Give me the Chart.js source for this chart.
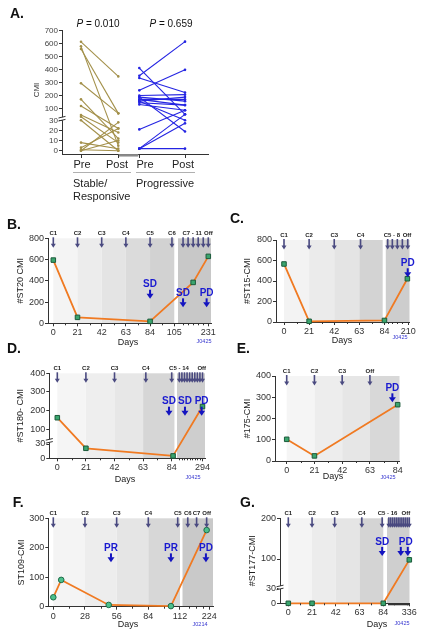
<!DOCTYPE html>
<html>
<head>
<meta charset="utf-8">
<title>CMI course</title>
<script src="https://cdn.jsdelivr.net/npm/chart.js@4.4.1/dist/chart.umd.min.js"></script>
<style>
  body { margin: 0; background: #fff; }
  #page { position: relative; width: 427px; height: 639px; overflow: hidden; }
  #page canvas { position: absolute; left: 0; top: 0; }
</style>
</head>
<body>
<div id="page"></div>
<script>
// ---- A: paired CMI before / after ----
const aCats = ['Pre', 'Post', 'Pre', 'Post'];
const aGroups = ['Stable/', 'Responsive', 'Progressive'];
const aPValues = ['0.010', '0.659'];
const aYTicks = [0, 10, 20, 30, 100, 200, 300, 400, 500, 600, 700];
const aStablePre  = [615, 580, 560, 297, 174, 123, 63, 52, 30, 8, 3, 0, 0, 1];
const aStablePost = [350, 5, 73, 73, 12, 22, 18, 8, 0, 2, 22, 10, 28, 0];
const aProgPre  = [355, 243, 414, 338, 203, 191, 174, 160, 148, 135, 160, 191, 21, 2, 2, 2, 174];
const aProgPost = [616, 400, 67, 227, 210, 160, 174, 191, 130, 92, 30, 19, 92, 27, 67, 2, 130];

// ---- B: #ST20 ----
const bDays = [0, 21, 84, 168, 231];
const bCmi = [595, 56, 18, 385, 630];
const bXTicks = [0, 21, 42, 63, 84, 105, 231];
const bYTicks = [0, 200, 400, 600, 800];
const bCycleDays = [0, 21, 42, 63, 84, 103, 126, 147, 168, 189, 210, 231];
const bTags = ['C1', 'C2', 'C3', 'C4', 'C5', 'C6', 'C7 - 11', 'Off'];
const bTagDays = [0, 21, 42, 63, 84, 103, 164, 231];
const bResp = ['SD', 'SD', 'PD'];
const bRespDays = [84, 126, 224];

// ---- C: #ST15 ----
const cDays = [0, 21, 84, 205];
const cCmi = [566, 7, 15, 422];
const cXTicks = [0, 21, 42, 63, 84, 210];
const cYTicks = [0, 200, 400, 600, 800];
const cCycleDays = [0, 21, 42, 64, 95, 121, 149, 177, 207];
const cTags = ['C1', 'C2', 'C3', 'C4', 'C5 - 8', 'Off'];
const cTagDays = [0, 21, 42, 64, 118, 203];
const cResp = ['PD'];
const cRespDays = [207];

// ---- D: #ST180 ----
const dDays = [0, 21, 85, 294];
const dCmi = [162, 21, 5, 222];
const dXTicks = [0, 21, 42, 63, 84, 294];
const dYTicks = [0, 30, 100, 200, 300, 400];
const dCycleDays = [0, 21, 42, 65, 84, 105, 126, 147, 168, 189, 210, 231, 252, 273, 294];
const dTags = ['C1', 'C2', 'C3', 'C4', 'C5 - 14', 'Off'];
const dTagDays = [0, 21, 42, 65, 102, 288];
const dResp = ['SD', 'SD', 'PD'];
const dRespDays = [82, 151, 287];

// ---- E: #175 ----
const eDays = [0, 21, 84];
const eCmi = [102, 24, 265];
const eXTicks = [0, 21, 42, 63, 84];
const eYTicks = [0, 100, 200, 300, 400];
const eCycleDays = [0, 21, 42, 63];
const eTags = ['C1', 'C2', 'C3', 'Off'];
const eTagDays = [0, 21, 42, 63];
const eResp = ['PD'];
const eRespDays = [80];

// ---- F: ST109 ----
const fDays = [0, 7, 49, 104, 213];
const fCmi = [32, 91, 6, 2, 260];
const fXTicks = [0, 28, 56, 84, 112, 224];
const fYTicks = [0, 100, 200, 300];
const fCycleDays = [0, 28, 56, 84, 110, 134, 171, 213];
const fTags = ['C1', 'C2', 'C3', 'C4', 'C5', 'C6', 'C7', 'Off'];
const fTagDays = [0, 28, 56, 84, 110, 134, 171, 213];
const fResp = ['PR', 'PR', 'PD'];
const fRespDays = [51, 104, 210];

// ---- G: #ST177 ----
const gDays = [0, 21, 84, 336];
const gCmi = [0, 0, 0, 98];
const gXTicks = [0, 21, 42, 63, 84, 336];
const gYTicks = [0, 30, 100, 200];
const gCycleDays = [0, 21, 41, 65, 83, 105, 126, 147, 168, 189, 210, 231, 252, 273, 294, 315, 336];
const gTags = ['C1', 'C2', 'C3', 'C4', 'C5 - 16', 'Off'];
const gTagDays = [0, 21, 41, 65, 90, 298];
const gResp = ['SD', 'PD'];
const gRespDays = [83, 296];

const FONT = '"Liberation Sans", Arial, sans-serif';
const YW = 30, XH = 16;

function addCanvas() {
    const c = document.createElement('canvas');
    c.width = 427; c.height = 639;
    c.style.width = '427px'; c.style.height = '639px';
    document.getElementById('page').appendChild(c);
    return c.getContext('2d');
}

// piecewise linear value -> axis position (for the broken axes)
function pieceMap(pts) {
    return v => {
        for (let i = 1; i < pts.length; i++) {
            if (v <= pts[i][0] || i === pts.length - 1) {
                const [v0, p0] = pts[i - 1], [v1, p1] = pts[i];
                return p0 + (v - v0) * (p1 - p0) / (v1 - v0);
            }
        }
    };
}

function xMapper(g) {
    return d => (g.brk === undefined || d <= g.brk) ? g.x0 + d * g.k : g.post + (d - g.brk) * g.kp;
}

function txt(c, s, x, y, font, col, align) {
    c.font = font; c.fillStyle = col;
    c.textAlign = align || 'center'; c.textBaseline = 'middle';
    c.fillText(s, x, y);
}

function arrowDown(c, x, y0, y1, col, shaft, hw, hh) {
    c.fillStyle = col;
    c.fillRect(x - shaft / 2, y0, shaft, y1 - y0 - hh + 0.5);
    c.beginPath();
    c.moveTo(x - hw / 2, y1 - hh);
    c.lineTo(x + hw / 2, y1 - hh);
    c.lineTo(x, y1);
    c.closePath();
    c.fill();
}

function yBreak(c, x, y) {
    c.fillStyle = '#fff';
    c.fillRect(x - 1.5, y - 1.5, 3, 3);
    c.strokeStyle = '#333'; c.lineWidth = 1;
    [-1.5, 1.5].forEach(o => {
        c.beginPath(); c.moveTo(x - 3.5, y + o + 0.8); c.lineTo(x + 3.5, y + o - 0.8); c.stroke();
    });
}

function axisOpts(min, max, fit, build, size, color, tickColor) {
    return {
        type: 'linear', min: min, max: max,
        afterFit: fit, afterBuildTicks: build,
        grid: { display: true, drawOnChartArea: false, drawTicks: true, tickLength: 3, tickColor: tickColor || '#333' },
        border: { display: true, color: '#333', width: 1 },
        ticks: { autoSkip: false, maxRotation: 0, padding: 1, color: color || '#333',
                 font: { family: FONT, size: size }, callback: (v, i, t) => t[i].lab }
    };
}

// ---------- panel A ----------
(function () {
    const left = 62, right = 208, top = 30.7, bottom = 154.5, zero = 150.7;
    const ym = pieceMap([[0, 0], [30, 30.4], [100, 41.7], [700, 120]]);
    const slots = [81, 118.3, 139.3, 185];
    const labelAt = [82, 117, 145, 183];
    const olive = '#a3904a', blue = '#2424e2';
    const ds = [];
    const pair = (pre, post, x0, x1, col) => ({
        data: [{ x: x0, y: ym(pre) }, { x: x1, y: ym(post) }],
        borderColor: col, borderWidth: 1.1, pointRadius: 1.3, pointBackgroundColor: col,
        pointBorderWidth: 0, tension: 0, clip: false
    });
    aStablePre.forEach((v, i) => ds.push(pair(v, aStablePost[i], slots[0], slots[1], olive)));
    aProgPre.forEach((v, i) => ds.push(pair(v, aProgPost[i], slots[2], slots[3], blue)));

    const decor = {
        id: 'panelA',
        afterDraw(chart) {
            const c = chart.ctx, a = chart.chartArea, sx = chart.scales.x, sy = chart.scales.y;
            c.save();
            // grey stretch of the x axis between the two groups
            c.strokeStyle = '#8a8a8a'; c.lineWidth = 2.5;
            c.beginPath(); c.moveTo(slots[1], a.bottom + 0.8); c.lineTo(slots[2] - 1, a.bottom + 0.8); c.stroke();
            // tick marks at the Pre / Post slots
            c.strokeStyle = '#333'; c.lineWidth = 1;
            slots.forEach(x => {
                const px = Math.round(sx.getPixelForValue(x)) + 0.5;
                c.beginPath(); c.moveTo(px, a.bottom); c.lineTo(px, a.bottom + 3.5); c.stroke();
            });
            yBreak(c, a.left, sy.getPixelForValue(ym(40)));
            // P values
            [[98, aPValues[0]], [171, aPValues[1]]].forEach(([cx, pv]) => {
                c.font = 'italic 10px ' + FONT;
                const w1 = c.measureText('P').width;
                c.font = '10px ' + FONT;
                const rest = ' = ' + pv, w2 = c.measureText(rest).width;
                const x = cx - (w1 + w2) / 2;
                txt(c, 'P', x, 24, 'italic 10px ' + FONT, '#111', 'left');
                txt(c, rest, x + w1, 24, '10px ' + FONT, '#111', 'left');
            });
            // group brackets and names
            c.strokeStyle = '#b0b0b0'; c.lineWidth = 1;
            c.beginPath(); c.moveTo(73, 172.5); c.lineTo(131, 172.5); c.moveTo(136, 172.5); c.lineTo(195, 172.5); c.stroke();
            txt(c, aGroups[0], 73, 183.5, '11px ' + FONT, '#222', 'left');
            txt(c, aGroups[1], 73, 197, '11px ' + FONT, '#222', 'left');
            txt(c, aGroups[2], 136, 183.5, '11px ' + FONT, '#222', 'left');
            // y title
            c.translate(37, 90); c.rotate(-Math.PI / 2);
            txt(c, 'CMI', 0, 0, '8px ' + FONT, '#333');
            c.restore();
            txt(c, 'A.', 10, 14.5, 'bold 14px ' + FONT, '#111', 'left');
        }
    };

    new Chart(addCanvas(), {
        type: 'line',
        data: { datasets: ds },
        options: {
            animation: false, responsive: false, devicePixelRatio: 1, events: [],
            layout: { padding: { left: left - YW, top: top, right: 427 - right, bottom: 639 - bottom - 22 } },
            plugins: { legend: { display: false }, tooltip: { enabled: false } },
            scales: {
                x: axisOpts(left, right, s => { s.height = 22; },
                    s => { s.ticks = labelAt.map((x, i) => ({ value: x, lab: aCats[i] })); }, 11, '#222', 'rgba(0,0,0,0)'),
                y: axisOpts(-(bottom - zero), zero - top, s => { s.width = YW; },
                    s => { s.ticks = aYTicks.map(v => ({ value: ym(v), lab: String(v) })); }, 8, '#444')
            }
        },
        plugins: [decor]
    });
})();

// ---------- course panels B-G ----------
const panels = [
    { letter: 'B.', letterXY: [7, 225], left: 48, right: 211, top: 238.3, bottom: 323.3,
      xg: { x0: 53.3, k: 1.152, brk: 105, post: 178, kp: 0.2405 }, yg: [[0, 0], [800, 85]],
      days: bDays, cmi: bCmi, xTicks: bXTicks, yTicks: bYTicks,
      minor: [10.5, 31.5, 52.5, 73.5, 94.5, 126, 147, 168, 189, 210],
      cycles: bCycleDays, tags: bTags, tagDays: bTagDays,
      resp: bResp, respDays: bRespDays, respLevel: [363, 282, 282],
      bands: [[0, 21, '#f4f4f4'], [21, 42, '#ececec'], [42, 63, '#e4e4e4'], [63, 84, '#dbdbdb'], [84, 105, '#d2d2d2'], ['post', 'end', '#c8c8c8']],
      marker: 'rect', yTitle: '#ST20 CMI', yTitleX: 21, daysXY: [128, 343], code: 'J0425', codeXY: [204, 341] },
    { letter: 'C.', letterXY: [230, 219], left: 276, right: 409.5, top: 240, bottom: 322,
      xg: { x0: 284, k: 1.196, brk: 84.5, post: 385.8, kp: 0.179 }, yg: [[0, 0], [800, 82]],
      days: cDays, cmi: cCmi, xTicks: cXTicks, yTicks: cYTicks,
      minor: [10.5, 31.5, 52.5, 73.5, 95, 121, 149, 177],
      cycles: cCycleDays, tags: cTags, tagDays: cTagDays,
      resp: cResp, respDays: cRespDays, respLevel: [573],
      bands: [[0, 21, '#f3f3f3'], [21, 42, '#ebebeb'], [42, 63, '#e4e4e4'], [63, 82.5, '#d3d3d3'], ['post', 'end', '#cdcdcd']],
      marker: 'rect', yTitle: '#ST15-CMI', yTitleX: 248, daysXY: [342, 341], code: 'J0425', codeXY: [400, 337.5] },
    { letter: 'D.', letterXY: [7, 349.5], left: 49.3, right: 205, top: 373.3, bottom: 458.3,
      xg: { x0: 57.3, k: 1.362, brk: 86, post: 177, kp: 0.1226 }, yg: [[0, 0], [30, 14.3], [100, 29], [400, 85]],
      days: dDays, cmi: dCmi, xTicks: dXTicks, yTicks: dYTicks, yBreak: 45,
      minor: [10.5, 31.5, 52.5, 73.5, 105, 126, 147, 168, 189, 210, 231, 252, 273],
      cycles: dCycleDays, tags: dTags, tagDays: dTagDays,
      resp: dResp, respDays: dRespDays, respLevel: [248, 248, 248],
      bands: [[0, 21, '#f5f5f5'], [21, 42, '#eeeeee'], [42, 63, '#e7e7e7'], [63, 86, '#d6d6d6'], ['post', 'end', '#cecece']],
      marker: 'rect', yTitle: '#ST180- CMI', yTitleX: 21, daysXY: [125, 480], code: 'J0425', codeXY: [193, 477] },
    { letter: 'E.', letterXY: [236.7, 349.5], left: 275, right: 399.5, top: 376, bottom: 461,
      xg: { x0: 286.7, k: 1.321 }, yg: [[0, 0], [400, 85]],
      days: eDays, cmi: eCmi, xTicks: eXTicks, yTicks: eYTicks,
      minor: [10.5, 31.5, 52.5, 73.5],
      cycles: eCycleDays, tags: eTags, tagDays: eTagDays,
      resp: eResp, respDays: eRespDays, respLevel: [342],
      bands: [[0, 21, '#f5f5f5'], [21, 42, '#ededed'], [42, 63, '#e6e6e6'], [63, 'end', '#d8d8d8']],
      marker: 'rect', yTitle: '#175-CMI', yTitleX: 248, daysXY: [333, 477], code: 'J0425', codeXY: [388, 477] },
    { letter: 'F.', letterXY: [12.7, 503], left: 48.3, right: 213, top: 518.3, bottom: 606.7,
      xg: { x0: 53.3, k: 1.131, brk: 112, post: 182.5, kp: 0.239 }, yg: [[0, 0], [300, 88.4]],
      days: fDays, cmi: fCmi, xTicks: fXTicks, yTicks: fYTicks,
      minor: [14, 42, 70, 98, 140, 168, 196],
      cycles: fCycleDays, tags: fTags, tagDays: fTagDays,
      resp: fResp, respDays: fRespDays, respLevel: [198, 198, 198],
      bands: [[0, 28, '#f4f4f4'], [28, 56, '#ededed'], [56, 84, '#e5e5e5'], [84, 112, '#d7d7d7'], ['post', 'end', '#c9c9c9']],
      marker: 'circle', yTitle: 'ST109-CMI', yTitleX: 22, daysXY: [128, 625], code: 'J0214', codeXY: [200, 624] },
    { letter: 'G.', letterXY: [240, 503], left: 280, right: 409.5, top: 518.3, bottom: 603.3,
      xg: { x0: 288.3, k: 1.131, brk: 84, post: 387, kp: 0.0885 }, yg: [[0, 0], [30, 15], [100, 44.3], [200, 85]],
      days: gDays, cmi: gCmi, xTicks: gXTicks, yTicks: gYTicks, yBreak: 32,
      minor: [10.5, 31.5, 52.5, 73.5, 94.5, 105, 115.5, 126, 136.5, 147, 157.5, 168, 178.5, 189, 199.5, 210, 220.5, 231, 241.5, 252, 262.5, 273, 283.5, 294, 304.5, 315, 325.5],
      cycles: gCycleDays, tags: gTags, tagDays: gTagDays,
      resp: gResp, respDays: gRespDays, respLevel: [142, 142], respArrows: [[83], [240, 319]],
      bands: [[0, 21, '#f4f4f4'], [21, 42, '#ececec'], [42, 63, '#e5e5e5'], [63, 84, '#d4d4d4'], ['post', 'end', '#cfcfcf']],
      marker: 'rect', yTitle: '#ST177-CMI', yTitleX: 253, daysXY: [377, 625], code: 'J0425', codeXY: [402, 623.5] }
];

function courseDecor(p, xm, ym) {
    return {
        id: 'course',
        beforeDraw(chart) {
            const c = chart.ctx, a = chart.chartArea, sx = chart.scales.x;
            c.save();
            p.bands.forEach(b => {
                const x0 = b[0] === 'post' ? sx.getPixelForValue(p.xg.post) : sx.getPixelForValue(xm(b[0]));
                const x1 = b[1] === 'end' ? a.right : sx.getPixelForValue(xm(b[1]));
                c.fillStyle = b[2];
                c.fillRect(x0, a.top, x1 - x0, a.bottom - a.top);
            });
            c.restore();
        },
        afterDraw(chart) {
            const c = chart.ctx, a = chart.chartArea, sx = chart.scales.x, sy = chart.scales.y;
            const X = d => sx.getPixelForValue(xm(d));
            c.save();
            c.strokeStyle = '#333'; c.lineWidth = 1;
            p.minor.forEach(d => {
                const x = Math.round(X(d)) + 0.5;
                c.beginPath(); c.moveTo(x, a.bottom); c.lineTo(x, a.bottom + 2); c.stroke();
            });
            if (p.yBreak !== undefined) yBreak(c, a.left, sy.getPixelForValue(ym(p.yBreak)));
            // treatment cycles
            p.cycles.forEach(d => arrowDown(c, X(d), a.top - 1, a.top + 9.5, '#4a4a80', 1.6, 5, 4));
            p.tags.forEach((t, i) => txt(c, t, X(p.tagDays[i]), a.top - 4.5, 'bold 6px ' + FONT, '#222'));
            // responses
            p.resp.forEach((r, i) => {
                const y = sy.getPixelForValue(ym(p.respLevel[i]));
                txt(c, r, X(p.respDays[i]), y, 'bold 10px ' + FONT, '#1a1ad0');
                const ad = p.respArrows ? p.respArrows[i] : [p.respDays[i]];
                ad.forEach(d => arrowDown(c, X(d), y + 5, y + 14, '#1414c0', 2, 7, 5));
            });
            txt(c, 'Days', p.daysXY[0], p.daysXY[1], '9px ' + FONT, '#222');
            txt(c, p.code, p.codeXY[0], p.codeXY[1], '5.5px ' + FONT, '#3636d0');
            txt(c, p.letter, p.letterXY[0], p.letterXY[1], 'bold 14px ' + FONT, '#111', 'left');
            c.translate(p.yTitleX, (a.top + a.bottom) / 2); c.rotate(-Math.PI / 2);
            txt(c, p.yTitle, 0, 0, '9px ' + FONT, '#222');
            c.restore();
        }
    };
}

panels.forEach(p => {
    const xm = xMapper(p.xg), ym = pieceMap(p.yg);
    const pts = p.days.map((d, i) => ({ x: xm(d), y: ym(p.cmi[i]) }));
    const circle = p.marker === 'circle';
    new Chart(addCanvas(), {
        type: 'line',
        data: {
            datasets: [{
                data: pts, borderColor: '#f07a22', borderWidth: 1.8, tension: 0, clip: false,
                pointStyle: p.marker, pointRadius: circle ? 2.8 : 3.2,
                pointBackgroundColor: circle ? '#4cc08c' : '#3aa56e',
                pointBorderColor: circle ? '#1f6b48' : '#1c5a3a', pointBorderWidth: 1
            }]
        },
        options: {
            animation: false, responsive: false, devicePixelRatio: 1, events: [],
            layout: { padding: { left: p.left - YW, top: p.top, right: 427 - p.right, bottom: 639 - p.bottom - XH } },
            plugins: { legend: { display: false }, tooltip: { enabled: false } },
            scales: {
                x: axisOpts(p.left, p.right, s => { s.height = XH; },
                    s => { s.ticks = p.xTicks.map(d => ({ value: xm(d), lab: String(d) })); }, 9),
                y: axisOpts(0, p.bottom - p.top, s => { s.width = YW; },
                    s => { s.ticks = p.yTicks.map(v => ({ value: ym(v), lab: String(v) })); }, 9)
            }
        },
        plugins: [courseDecor(p, xm, ym)]
    });
});
</script>
</body>
</html>
